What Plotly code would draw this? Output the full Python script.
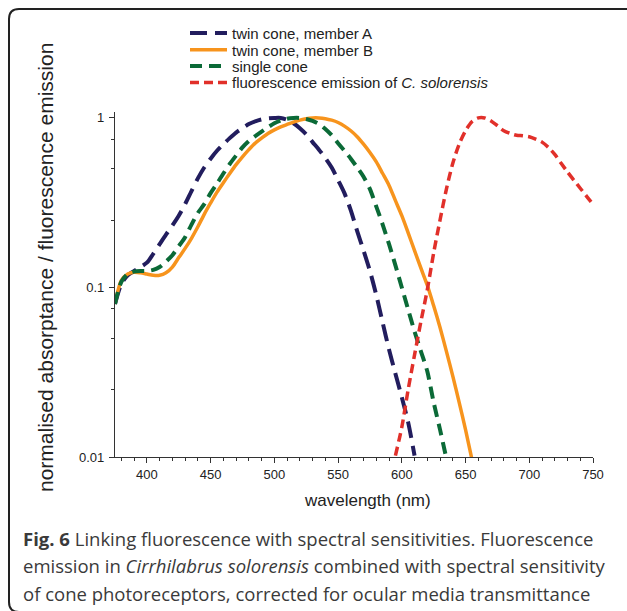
import plotly.graph_objects as go

# ---------------- data ----------------
wl_a = [375, 380, 385, 390, 395, 400, 405, 410, 415, 420, 425, 430, 435, 440, 445, 450,
        455, 460, 465, 470, 475, 480, 485, 490, 495, 500, 505, 510, 515, 520, 525, 530,
        535, 540, 545, 550, 555, 560, 565, 570, 575, 580, 585, 590, 595, 600, 605, 610]
twin_a = [0.08, 0.105, 0.118, 0.125, 0.132, 0.14, 0.158, 0.18, 0.205, 0.232, 0.265, 0.31,
          0.37, 0.44, 0.51, 0.575, 0.64, 0.70, 0.76, 0.82, 0.87, 0.92, 0.955, 0.98, 0.995,
          1.0, 1.0, 0.975, 0.93, 0.87, 0.80, 0.72, 0.65, 0.58, 0.51, 0.43, 0.36, 0.285,
          0.215, 0.165, 0.125, 0.09, 0.062, 0.043, 0.031, 0.0225, 0.016, 0.0102]

wl_b = [375, 380, 385, 390, 395, 400, 405, 410, 415, 420, 425, 430, 435, 440, 445, 450,
        455, 460, 465, 470, 475, 480, 485, 490, 495, 500, 505, 510, 515, 520, 525, 530,
        535, 540, 545, 550, 555, 560, 565, 570, 575, 580, 585, 590, 595, 600, 605, 610,
        615, 620, 625, 630, 635, 640, 645, 650, 655]
twin_b = [0.08, 0.11, 0.12, 0.123, 0.122, 0.12, 0.118, 0.118, 0.122, 0.132, 0.15, 0.17,
          0.195, 0.228, 0.27, 0.315, 0.365, 0.415, 0.47, 0.53, 0.59, 0.65, 0.71, 0.76,
          0.81, 0.85, 0.885, 0.915, 0.945, 0.97, 0.99, 1.0, 1.0, 0.99, 0.97, 0.94, 0.895,
          0.84, 0.775, 0.70, 0.625, 0.55, 0.47, 0.40, 0.325, 0.265, 0.21, 0.165, 0.13,
          0.103, 0.078, 0.058, 0.042, 0.030, 0.021, 0.0145, 0.0097]

wl_s = [375, 380, 385, 390, 395, 400, 405, 410, 415, 420, 425, 430, 435, 440, 445, 450,
        455, 460, 465, 470, 475, 480, 485, 490, 495, 500, 505, 510, 515, 520, 525, 530,
        535, 540, 545, 550, 555, 560, 565, 570, 575, 580, 585, 590, 595, 600, 605, 610,
        615, 620, 625, 630, 635]
single = [0.08, 0.108, 0.12, 0.124, 0.125, 0.125, 0.127, 0.132, 0.142, 0.155, 0.175, 0.198,
          0.235, 0.275, 0.31, 0.36, 0.41, 0.47, 0.535, 0.60, 0.67, 0.73, 0.78, 0.83, 0.88,
          0.93, 0.965, 0.99, 1.0, 1.0, 0.985, 0.96, 0.92, 0.86, 0.79, 0.71, 0.64, 0.575,
          0.51, 0.45, 0.38, 0.30, 0.235, 0.18, 0.135, 0.10, 0.074, 0.055, 0.042, 0.032,
          0.021, 0.0145, 0.0098]

wl_f = [595, 600, 605, 610, 615, 620, 625, 630, 635, 640, 645, 650, 655, 660, 665, 670,
        675, 680, 685, 690, 695, 700, 705, 710, 715, 720, 725, 730, 735, 740, 745, 750]
fluor = [0.0102, 0.015, 0.025, 0.040, 0.063, 0.097, 0.16, 0.25, 0.38, 0.54, 0.70, 0.84,
         0.95, 1.0, 1.0, 0.96, 0.90, 0.84, 0.81, 0.79, 0.785, 0.775, 0.75, 0.72, 0.67,
         0.61, 0.54, 0.48, 0.43, 0.385, 0.345, 0.31]

x_ticks = [400, 450, 500, 550, 600, 650, 700, 750]
y_ticks = [0.01, 0.1, 1]
y_tick_text = ["0.01", "0.1", "1"]
y_minor = [0.025, 0.05, 0.075, 0.25, 0.5, 0.75]

# ---------------- layout geometry ----------------
W, H = 627, 611
ML, MR, MT, MB = 115, 34, 112, 154
PW, PH = W - ML - MR, H - MT - MB


def px(x):
    return (x - ML) / PW


def py(y):
    return (H - MB - y) / PH


FONT = "Liberation Sans, Arial, Helvetica, sans-serif"
CAP = "Open Sans, Noto Sans, sans-serif"

series = [
    ("twin cone, member A", wl_a, twin_a, "#221d5e", 4, "17px,8px", "legend"),
    ("twin cone, member B", wl_b, twin_b, "#f7941d", 3.5, "solid", "legend2"),
    ("single cone", wl_s, single, "#0b6a37", 4, "12px,7px", "legend3"),
    ("fluorescence emission of <i>C. solorensis</i>", wl_f, fluor, "#e1302a", 3.5,
     "9px,5px", "legend4"),
]

fig = go.Figure()
for name, xs, ys, col, w, dash, lg in series:
    fig.add_trace(go.Scatter(
        x=xs, y=ys, name=name, mode="lines",
        line=dict(color=col, width=w, dash=dash, shape="spline", smoothing=0.8),
        legend=lg, hoverinfo="skip",
    ))

leg_rows = [33.3, 50.0, 66.3, 82.7]
leg_common = dict(x=px(185), xanchor="left", yanchor="middle", bgcolor="rgba(0,0,0,0)",
                  font=dict(family=FONT, size=15, color="#222"), itemwidth=37,
                  borderwidth=0, tracegroupgap=0)
legends = {}
for i, key in enumerate(["legend", "legend2", "legend3", "legend4"]):
    legends[key] = dict(y=py(leg_rows[i]), **leg_common)

# rounded frame around the figure (partly cropped, as in the reference)
r = 10
fx0, fy0, fx1, fy1 = 9, 9, 660, 612
frame_path = (
    f"M {px(fx1)},{py(fy0)} L {px(fx0 + r)},{py(fy0)} "
    f"Q {px(fx0)},{py(fy0)} {px(fx0)},{py(fy0 + r)} "
    f"L {px(fx0)},{py(fy1 - r)} Q {px(fx0)},{py(fy1)} {px(fx0 + r)},{py(fy1)} "
    f"L {px(fx1)},{py(fy1)}"
)

cap_col = "#3a3a3a"
captions = [
    "<b>Fig. 6</b> Linking fluorescence with spectral sensitivities. Fluorescence",
    "emission in <i>Cirrhilabrus solorensis</i> combined with spectral sensitivity",
    "of cone photoreceptors, corrected for ocular media transmittance",
]
cap_y = [538, 565.5, 593]
annotations = []
for t, yy in zip(captions, cap_y):
    annotations.append(dict(text=t, x=px(21), y=py(yy), xref="paper", yref="paper",
                            xanchor="left", yanchor="middle", showarrow=False,
                            font=dict(family=CAP, size=18.5, color=cap_col)))
annotations.append(dict(text="wavelength (nm)", x=px(367), y=py(500), xref="paper",
                        yref="paper", xanchor="center", yanchor="middle", showarrow=False,
                        font=dict(family=FONT, size=17, color="#222")))
annotations.append(dict(text="normalised absorptance / fluorescence emission",
                        x=px(45), y=py(268), xref="paper", yref="paper",
                        xanchor="center", yanchor="middle", textangle=-90,
                        showarrow=False, font=dict(family=FONT, size=21, color="#222")))

fig.update_layout(
    width=W, height=H,
    margin=dict(l=ML, r=MR, t=MT, b=MB, pad=0),
    paper_bgcolor="white", plot_bgcolor="white",
    font=dict(family=FONT, size=13, color="#222"),
    showlegend=True,
    annotations=annotations,
    shapes=[dict(type="path", path=frame_path, xref="paper", yref="paper",
                 line=dict(color="#222", width=2), layer="above")],
    **legends,
)
fig.update_xaxes(
    range=[375, 750], tickvals=x_ticks, showgrid=False, zeroline=False,
    showline=True, linecolor="#333", linewidth=1.3, ticks="outside", ticklen=5,
    tickcolor="#333", tickwidth=1.2, tickfont=dict(family=FONT, size=13, color="#222"),
    minor=dict(dtick=10, tick0=0, ticks="outside", ticklen=3, tickcolor="#333",
               tickwidth=1, showgrid=False),
)
fig.update_yaxes(
    type="log", range=[-2, 0.035], tickvals=y_ticks, ticktext=y_tick_text,
    showgrid=False, zeroline=False, showline=True, linecolor="#333", linewidth=1.3,
    ticks="outside", ticklen=5, tickcolor="#333", tickwidth=1.2, ticklabelstandoff=2,
    tickfont=dict(family=FONT, size=13, color="#222"),
    minor=dict(tickmode="array", tickvals=y_minor, ticks="outside", ticklen=3,
               tickcolor="#333", tickwidth=1, showgrid=False),
)

fig.write_html("out.html", config={"displayModeBar": False},
               post_script="document.body.style.margin='0';")
